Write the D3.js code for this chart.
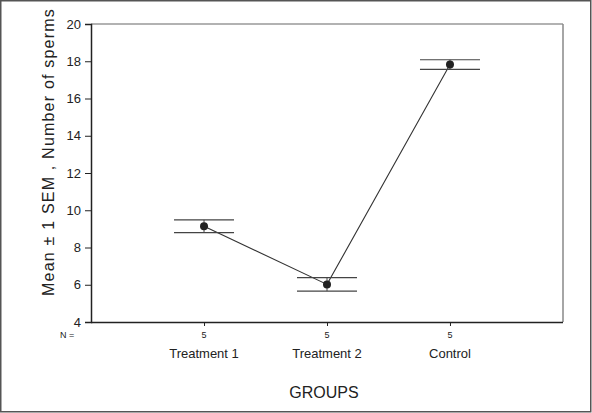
<!DOCTYPE html>
<html>
<head>
<meta charset="utf-8">
<script src="https://cdn.jsdelivr.net/npm/d3@7"></script>
<style>
body { margin: 0; background: #fff; }
text { font-family: "Liberation Sans", Arial, sans-serif; fill: #222; }
</style>
</head>
<body>
<div id="chart"></div>
<script>
// group means and SEM
var groups = ["Treatment 1", "Treatment 2", "Control"];
var counts = [5, 5, 5];
var means = [9.14, 6.02, 17.82];
var sems = [0.34, 0.36, 0.26];
var yTicks = [4, 6, 8, 10, 12, 14, 16, 18, 20];

var width = 592, height = 413;
var plotLeft = 91, plotRight = 563, plotTop = 24, plotBottom = 322;

var svg = d3.select("#chart")
	.append("svg")
	.attr("width", width)
	.attr("height", height);

// outer frame
svg.append("rect")
	.attr("x", 0.75).attr("y", 0.75)
	.attr("width", width - 2).attr("height", height - 2)
	.style("fill", "none")
	.style("stroke", "#555")
	.style("stroke-width", 1.5);

var x = d3.scalePoint()
	.domain(groups)
	.range([plotLeft, plotRight])
	.padding(0.919);

var y = d3.scaleLinear()
	.domain([4, 20])
	.range([plotBottom, plotTop]);

// plot box: top and right lighter
svg.append("line").attr("x1", plotLeft).attr("x2", plotRight).attr("y1", plotTop).attr("y2", plotTop)
	.style("stroke", "#666").style("stroke-width", 1.2);
svg.append("line").attr("x1", plotRight).attr("x2", plotRight).attr("y1", plotTop).attr("y2", plotBottom)
	.style("stroke", "#888").style("stroke-width", 1.5);

var yAxis = svg.append("g")
	.attr("transform", "translate(" + plotLeft + ",0)")
	.call(d3.axisLeft(y).tickValues(yTicks).tickSize(6).tickPadding(4));
yAxis.select(".domain").style("stroke", "#222").style("stroke-width", 1.5);
yAxis.selectAll(".tick line").style("stroke", "#222");
yAxis.selectAll("text").style("font-size", "13px").style("fill", "#222");

var xAxis = svg.append("g")
	.attr("transform", "translate(0," + plotBottom + ")")
	.call(d3.axisBottom(x).tickSize(4).tickFormat(""));
xAxis.select(".domain").attr("d", "M" + plotLeft + ",0.5H" + plotRight).style("stroke", "#222").style("stroke-width", 1.5);
xAxis.selectAll(".tick line").style("stroke", "#222");

// N counts
svg.append("text")
	.attr("x", 60).attr("y", 338)
	.style("font-size", "9px")
	.text("N =");

svg.selectAll(".nlab")
	.data(groups)
	.enter().append("text")
	.attr("class", "nlab")
	.attr("x", function(d) { return x(d); })
	.attr("y", 338)
	.attr("text-anchor", "middle")
	.style("font-size", "9px")
	.text(function(d, i) { return counts[i]; });

svg.selectAll(".glab")
	.data(groups)
	.enter().append("text")
	.attr("class", "glab")
	.attr("x", function(d) { return x(d); })
	.attr("y", 358)
	.attr("text-anchor", "middle")
	.style("font-size", "13px")
	.text(function(d) { return d; });

svg.append("text")
	.attr("x", 324).attr("y", 398)
	.attr("text-anchor", "middle")
	.style("font-size", "16px")
	.text("GROUPS");

svg.append("text")
	.attr("transform", "translate(54,152) rotate(-90)")
	.attr("text-anchor", "middle")
	.style("font-size", "16px")
	.style("letter-spacing", "1.2px")
	.text("Mean \u00b1 1 SEM , Number of sperms");

// connecting line
var line = d3.line()
	.x(function(d, i) { return x(groups[i]); })
	.y(function(d) { return y(d); });

svg.append("path")
	.datum(means)
	.attr("d", line)
	.style("fill", "none")
	.style("stroke", "#333")
	.style("stroke-width", 1.1);

// error bars
var capHalf = 30;
var pts = groups.map(function(g, i) { return { g: g, m: means[i], s: sems[i] }; });

var eb = svg.selectAll(".err")
	.data(pts)
	.enter().append("g")
	.attr("class", "err");

eb.append("line")
	.attr("x1", function(d) { return x(d.g); })
	.attr("x2", function(d) { return x(d.g); })
	.attr("y1", function(d) { return y(d.m + d.s); })
	.attr("y2", function(d) { return y(d.m - d.s); })
	.style("stroke", "#444");

eb.append("line")
	.attr("x1", function(d) { return x(d.g) - capHalf; })
	.attr("x2", function(d) { return x(d.g) + capHalf; })
	.attr("y1", function(d) { return y(d.m + d.s); })
	.attr("y2", function(d) { return y(d.m + d.s); })
	.style("stroke", "#444")
	.style("stroke-width", 1.2);

eb.append("line")
	.attr("x1", function(d) { return x(d.g) - capHalf; })
	.attr("x2", function(d) { return x(d.g) + capHalf; })
	.attr("y1", function(d) { return y(d.m - d.s); })
	.attr("y2", function(d) { return y(d.m - d.s); })
	.style("stroke", "#444")
	.style("stroke-width", 1.2);

eb.append("circle")
	.attr("cx", function(d) { return x(d.g); })
	.attr("cy", function(d) { return y(d.m); })
	.attr("r", 4)
	.style("fill", "#222");
</script>
</body>
</html>
